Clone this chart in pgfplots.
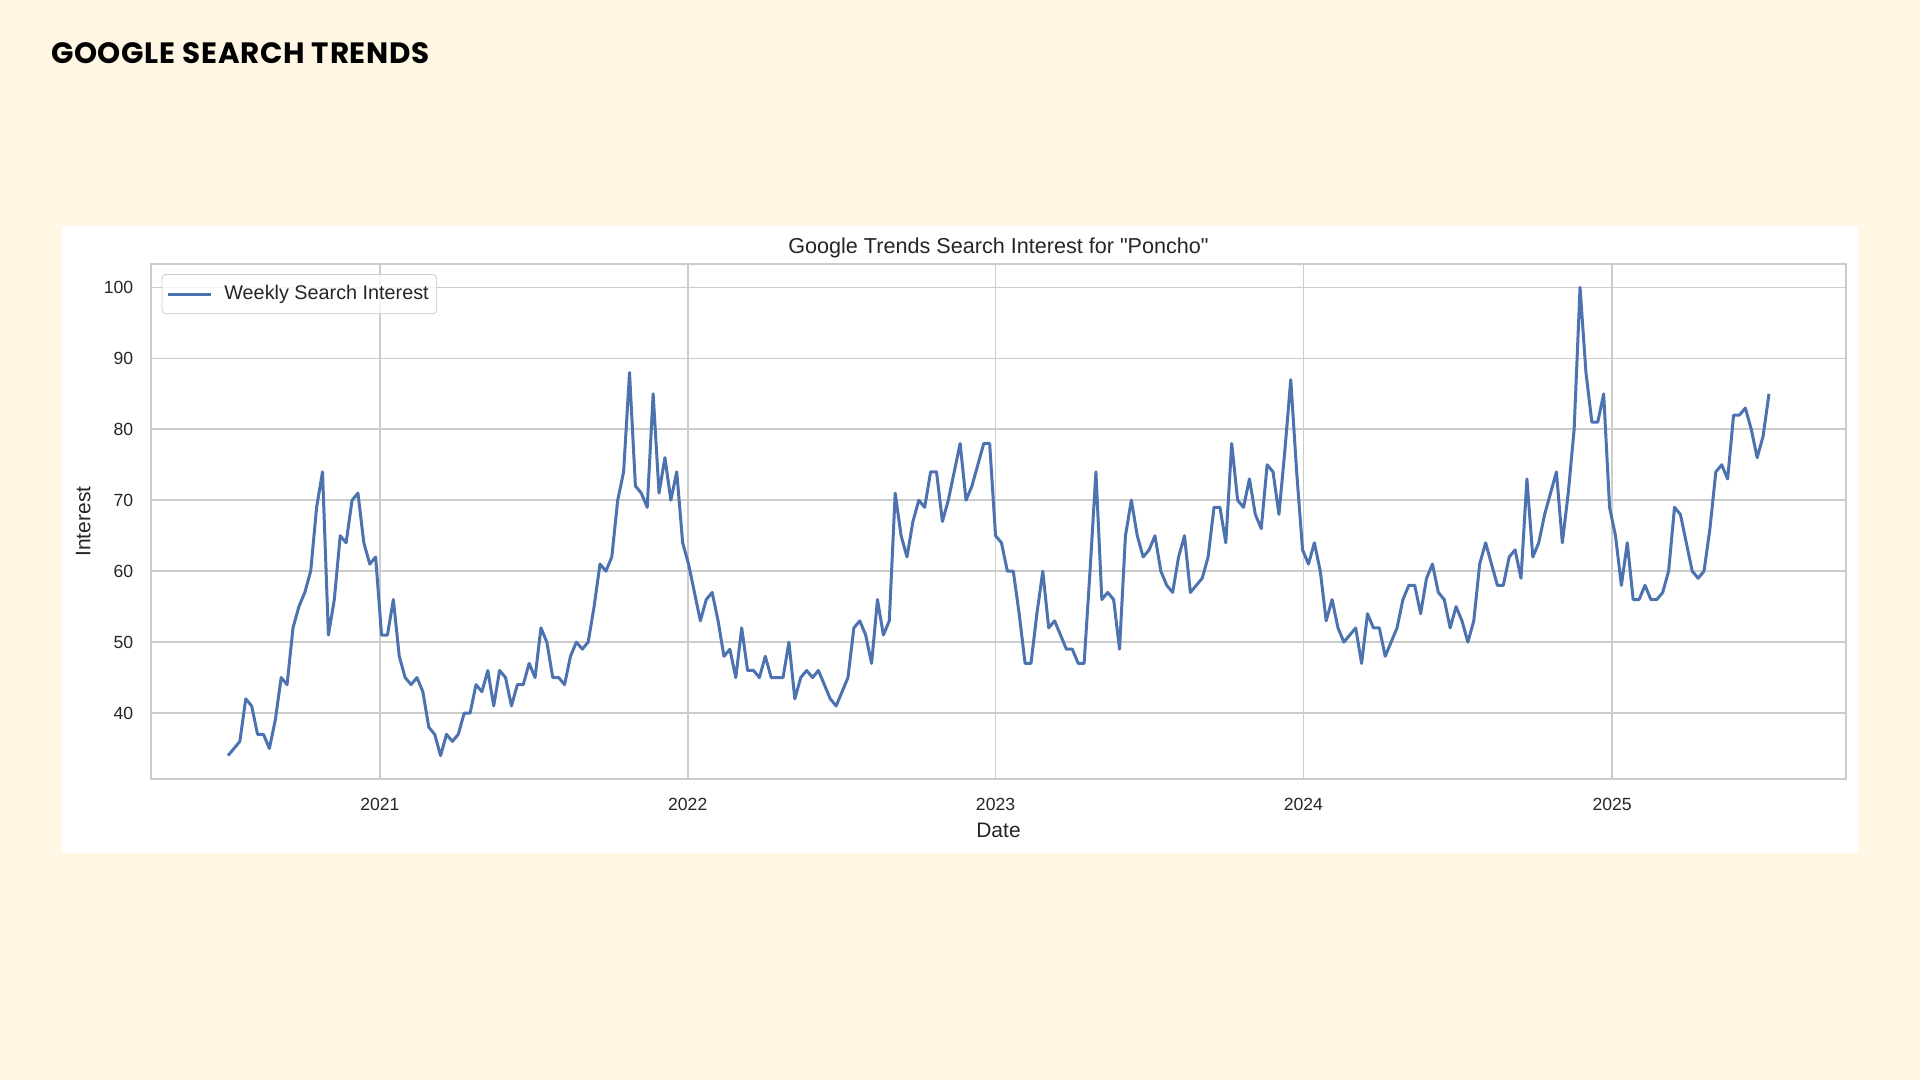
\documentclass[border=0pt]{standalone}
\usepackage{pgfplots}
\usepackage{pgfplotstable}
\pgfplotsset{compat=1.18}
\usepackage{fontspec}
\setmainfont{Liberation Sans}[Ligatures=TeXOff]
\newfontfamily\headfont{Poppins}[LetterSpace=2.5]

\definecolor{bg}{HTML}{FFF6E4}
\definecolor{snsblue}{HTML}{4C72B0}
\definecolor{gridc}{HTML}{CCCCCC}
\definecolor{txt}{HTML}{262626}

% weekly values, week 0 = 2020-07-05
\pgfplotstableread[row sep=\\]{
week interest\\
0 34\\ 1 35\\ 2 36\\ 3 42\\ 4 41\\ 5 37\\ 6 37\\ 7 35\\ 8 39\\ 9 45\\
10 44\\ 11 52\\ 12 55\\ 13 57\\ 14 60\\ 15 69\\ 16 74\\ 17 51\\ 18 56\\ 19 65\\
20 64\\ 21 70\\ 22 71\\ 23 64\\ 24 61\\ 25 62\\ 26 51\\ 27 51\\ 28 56\\ 29 48\\
30 45\\ 31 44\\ 32 45\\ 33 43\\ 34 38\\ 35 37\\ 36 34\\ 37 37\\ 38 36\\ 39 37\\
40 40\\ 41 40\\ 42 44\\ 43 43\\ 44 46\\ 45 41\\ 46 46\\ 47 45\\ 48 41\\ 49 44\\
50 44\\ 51 47\\ 52 45\\ 53 52\\ 54 50\\ 55 45\\ 56 45\\ 57 44\\ 58 48\\ 59 50\\
60 49\\ 61 50\\ 62 55\\ 63 61\\ 64 60\\ 65 62\\ 66 70\\ 67 74\\ 68 88\\ 69 72\\
70 71\\ 71 69\\ 72 85\\ 73 71\\ 74 76\\ 75 70\\ 76 74\\ 77 64\\ 78 61\\ 79 57\\
80 53\\ 81 56\\ 82 57\\ 83 53\\ 84 48\\ 85 49\\ 86 45\\ 87 52\\ 88 46\\ 89 46\\
90 45\\ 91 48\\ 92 45\\ 93 45\\ 94 45\\ 95 50\\ 96 42\\ 97 45\\ 98 46\\ 99 45\\
100 46\\ 101 44\\ 102 42\\ 103 41\\ 104 43\\ 105 45\\ 106 52\\ 107 53\\ 108 51\\ 109 47\\
110 56\\ 111 51\\ 112 53\\ 113 71\\ 114 65\\ 115 62\\ 116 67\\ 117 70\\ 118 69\\ 119 74\\
120 74\\ 121 67\\ 122 70\\ 123 74\\ 124 78\\ 125 70\\ 126 72\\ 127 75\\ 128 78\\ 129 78\\
130 65\\ 131 64\\ 132 60\\ 133 60\\ 134 54\\ 135 47\\ 136 47\\ 137 54\\ 138 60\\ 139 52\\
140 53\\ 141 51\\ 142 49\\ 143 49\\ 144 47\\ 145 47\\ 146 60\\ 147 74\\ 148 56\\ 149 57\\
150 56\\ 151 49\\ 152 65\\ 153 70\\ 154 65\\ 155 62\\ 156 63\\ 157 65\\ 158 60\\ 159 58\\
160 57\\ 161 62\\ 162 65\\ 163 57\\ 164 58\\ 165 59\\ 166 62\\ 167 69\\ 168 69\\ 169 64\\
170 78\\ 171 70\\ 172 69\\ 173 73\\ 174 68\\ 175 66\\ 176 75\\ 177 74\\ 178 68\\ 179 77\\
180 87\\ 181 74\\ 182 63\\ 183 61\\ 184 64\\ 185 60\\ 186 53\\ 187 56\\ 188 52\\ 189 50\\
190 51\\ 191 52\\ 192 47\\ 193 54\\ 194 52\\ 195 52\\ 196 48\\ 197 50\\ 198 52\\ 199 56\\
200 58\\ 201 58\\ 202 54\\ 203 59\\ 204 61\\ 205 57\\ 206 56\\ 207 52\\ 208 55\\ 209 53\\
210 50\\ 211 53\\ 212 61\\ 213 64\\ 214 61\\ 215 58\\ 216 58\\ 217 62\\ 218 63\\ 219 59\\
220 73\\ 221 62\\ 222 64\\ 223 68\\ 224 71\\ 225 74\\ 226 64\\ 227 71\\ 228 80\\ 229 100\\
230 88\\ 231 81\\ 232 81\\ 233 85\\ 234 69\\ 235 65\\ 236 58\\ 237 64\\ 238 56\\ 239 56\\
240 58\\ 241 56\\ 242 56\\ 243 57\\ 244 60\\ 245 69\\ 246 68\\ 247 64\\ 248 60\\ 249 59\\
250 60\\ 251 66\\ 252 74\\ 253 75\\ 254 73\\ 255 82\\ 256 82\\ 257 83\\ 258 80\\ 259 76\\
260 79\\ 261 85\\
}\trends

\begin{document}
\begin{tikzpicture}[x=1pt,y=1pt]
\fill[bg] (0,0) rectangle (960,-540);
\useasboundingbox (0,0) rectangle (960,-540);
% white chart panel
\fill[white] (31,-113) rectangle (929,-426.5);
\node[anchor=base west, inner sep=0pt, text=black]
  at (25.3,-31.6) {\headfont\bfseries\fontsize{14.7}{16}\selectfont GOOGLE SEARCH TRENDS};

\begin{axis}[
  at={(75.5pt,-389.5pt)}, anchor=south west,
  width=847.5pt, height=257.5pt, scale only axis,
  xmin=-13.05, xmax=274.05, ymin=30.7, ymax=103.3,
  xtick={25.71,77.86,130.0,182.14,234.43},
  xticklabels={2021,2022,2023,2024,2025},
  ytick={40,50,...,100},
  grid=major,
  major grid style={gridc, line width=0.8pt},
  axis line style={gridc, line width=1pt},
  major tick length=0pt,
  /pgf/number format/assume math mode=true,
  tick label style={font=\fontsize{8.8}{10}\selectfont, text=txt},
  xticklabel style={anchor=base, yshift=-15.8pt},
  yticklabel style={anchor=east, inner sep=0pt, xshift=-8.7pt},
  title={Google Trends Search Interest for "Poncho"},
  title style={at={(axis description cs:0.5,1)}, anchor=base, yshift=-0.7pt,
    font=\fontsize{10.8}{12}\selectfont, text=txt},
  xlabel={Date},
  xlabel style={at={(axis description cs:0.5,0)}, anchor=base, yshift=-29.3pt,
    font=\fontsize{10.5}{12}\selectfont, text=txt},
  ylabel={Interest},
  ylabel style={at={(axis description cs:0,0.5)}, anchor=center, yshift=33.9pt,
    font=\fontsize{10.5}{12}\selectfont, text=txt},
  legend style={at={(axis description cs:0,1)}, anchor=north west,
    xshift=5.3pt, yshift=-5pt, draw=gridc, rounded corners=2pt,
    fill=white, fill opacity=0.8, text opacity=1, text=txt,
    font=\fontsize{9.9}{11}\selectfont, inner xsep=2pt, inner ysep=3.5pt,
    column sep=4.2pt},
  legend cell align=left,
  legend image code/.code={\draw[#1] (0pt,0pt) -- (21.5pt,0pt);},
]
\addplot[snsblue, line width=1.5pt, line join=round] table[x=week, y=interest] {\trends};
\addlegendentry{Weekly Search Interest}
\end{axis}
\end{tikzpicture}
\end{document}
